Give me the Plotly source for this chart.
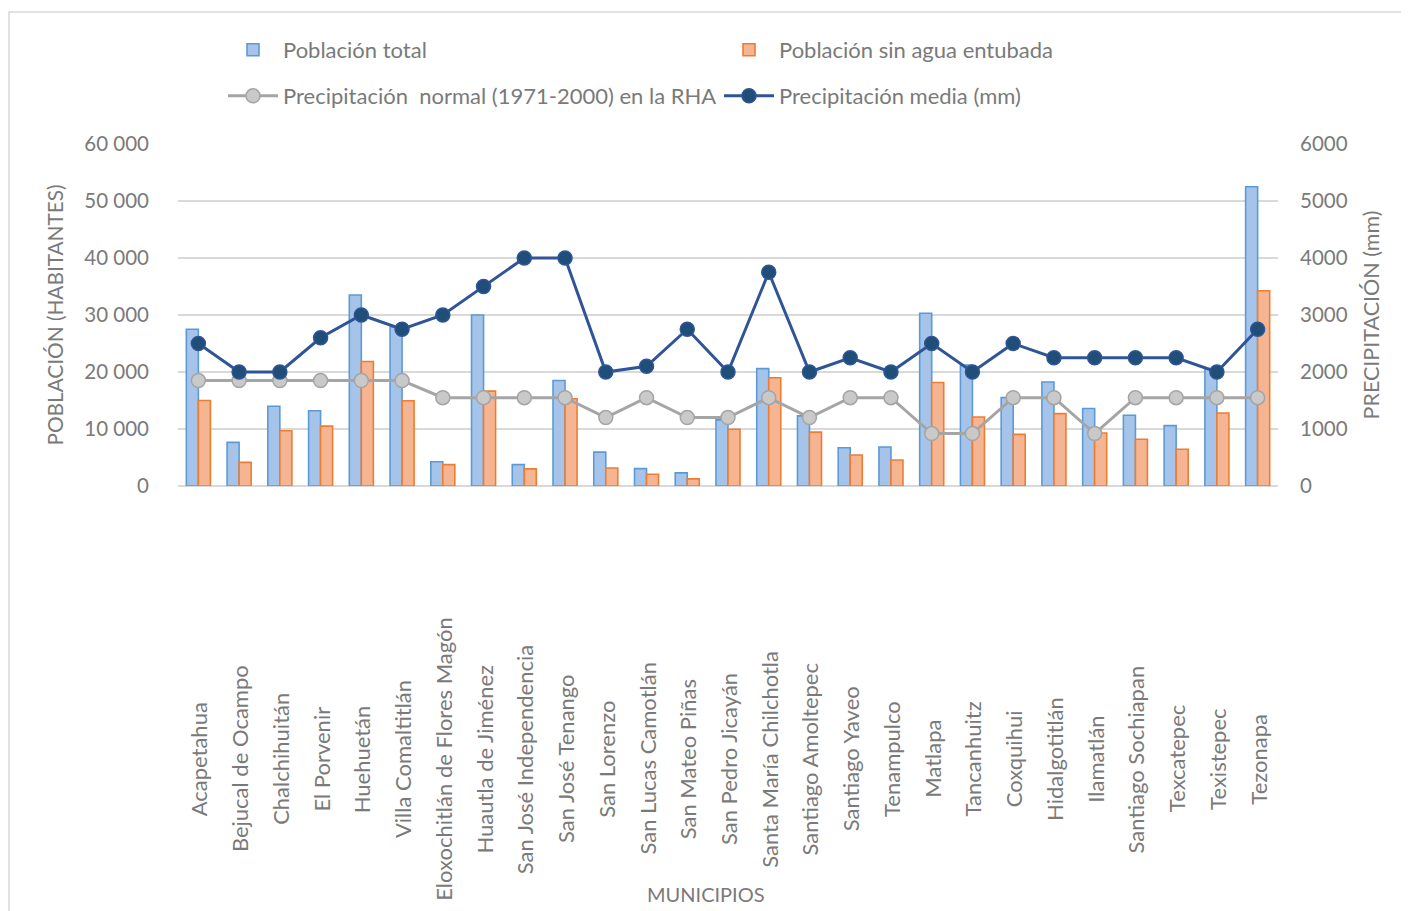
import plotly.graph_objects as go

municipios = [
    "Acapetahua", "Bejucal de Ocampo", "Chalchihuitán", "El Porvenir", "Huehuetán",
    "Villa Comaltitlán", "Eloxochitlán de Flores Magón", "Huautla de Jiménez",
    "San José Independencia", "San José Tenango", "San Lorenzo", "San Lucas Camotlán",
    "San Mateo Piñas", "San Pedro Jicayán", "Santa María Chilchotla", "Santiago Amoltepec",
    "Santiago Yaveo", "Tenampulco", "Matlapa", "Tancanhuitz", "Coxquihui", "Hidalgotitlán",
    "Ilamatlán", "Santiago Sochiapan", "Texcatepec", "Texistepec", "Tezonapa",
]

poblacion_total = [
    27500, 7650, 14000, 13200, 33500, 27900, 4250, 30000, 3750, 18500,
    5950, 3050, 2300, 11600, 20600, 12300, 6700, 6850, 30300, 21200,
    15500, 18250, 13600, 12400, 10600, 20600, 52500,
]

poblacion_sin_agua = [
    15000, 4150, 9700, 10500, 21850, 14950, 3750, 16650, 3000, 15300,
    3150, 2050, 1250, 9950, 19000, 9450, 5450, 4550, 18150, 12100,
    9050, 12700, 9300, 8200, 6450, 12800, 34250,
]

precip_normal = [
    1850, 1850, 1850, 1850, 1850, 1850, 1550, 1550, 1550, 1550,
    1200, 1550, 1200, 1200, 1550, 1200, 1550, 1550, 920, 920,
    1550, 1550, 920, 1550, 1550, 1550, 1550,
]

precip_media = [
    2500, 2000, 2000, 2600, 3000, 2750, 3000, 3500, 4000, 4000,
    2000, 2100, 2750, 2000, 3750, 2000, 2250, 2000, 2500, 2000,
    2500, 2250, 2250, 2250, 2250, 2000, 2750,
]

FONT = "Lato"
GRAY_TXT = "#7a7a7a"
OFF = 8  # page body margin
W, H = 1409 - OFF, 911 - OFF
L, R, T, B = 170, 131, 136, 425
PW, PH = W - L - R, H - T - B


def px_x(page_x):
    return (page_x - OFF - L) / PW


def px_y(page_y):
    return (T + PH - (page_y - OFF)) / PH


fig = go.Figure()

fig.add_trace(go.Bar(
    x=municipios, y=poblacion_total, name="Población total",
    marker=dict(color="#a6c4ea", line=dict(color="#5b9bd5", width=1.6)),
    legend="legend",
))
fig.add_trace(go.Bar(
    x=municipios, y=poblacion_sin_agua, name="Población sin agua entubada",
    marker=dict(color="#f6b592", line=dict(color="#ed7d31", width=1.6)),
    legend="legend",
))
fig.add_trace(go.Scatter(
    x=municipios, y=precip_normal, name="Precipitación\u00a0 normal (1971-2000) en la RHA",
    mode="lines+markers", yaxis="y2",
    line=dict(color="#a5a5a5", width=3),
    marker=dict(size=14, color="#c9c9c9", line=dict(color="#a5a5a5", width=1.5)),
    legend="legend2",
))
fig.add_trace(go.Scatter(
    x=municipios, y=precip_media, name="Precipitación media (mm)",
    mode="lines+markers", yaxis="y2",
    line=dict(color="#2f5597", width=3),
    marker=dict(size=14, color="#1f4e79", line=dict(color="#2f5597", width=1.5)),
    legend="legend2",
))

annotations = []
for m in municipios:
    annotations.append(dict(
        x=m, xref="x", y=px_y(759), yref="paper", text=m, textangle=-90,
        showarrow=False, xanchor="center", yanchor="middle",
        font=dict(family=FONT, size=22, color=GRAY_TXT),
    ))
annotations.append(dict(
    x=px_x(706), xref="paper", y=px_y(894), yref="paper", text="MUNICIPIOS",
    showarrow=False, xanchor="center", yanchor="middle",
    font=dict(family=FONT, size=20, color=GRAY_TXT),
))

legend_common = dict(
    orientation="h", xanchor="left", yanchor="middle",
    xref="container", yref="container",
    entrywidth=431, entrywidthmode="pixels", itemwidth=50,
    font=dict(family=FONT, size=22, color=GRAY_TXT),
    bgcolor="rgba(0,0,0,0)",
)

fig.update_layout(
    width=W, height=H,
    margin=dict(l=L, r=R, t=T, b=B, autoexpand=False),
    paper_bgcolor="white", plot_bgcolor="white",
    separators=". ",
    barmode="group", bargap=0.41, bargroupgap=0,
    font=dict(family=FONT, size=20, color=GRAY_TXT),
    showlegend=True,
    legend=dict(x=(223 - OFF) / W, y=1 - (50 - OFF) / H, **legend_common),
    legend2=dict(x=(223 - OFF) / W, y=1 - (96 - OFF) / H, **legend_common),
    xaxis=dict(
        range=[-0.5, len(municipios) - 0.5], autorange=False,
        showticklabels=False, showgrid=False, zeroline=False,
        showline=False, ticks="", automargin=False,
    ),
    yaxis=dict(
        range=[0, 60000], dtick=10000, tickformat=",d",
        showgrid=True, gridcolor="#d9d9d9", gridwidth=1.5,
        zeroline=True, zerolinecolor="#d9d9d9", zerolinewidth=1.5,
        showline=False, ticks="", ticklabelstandoff=28, automargin=False,
        tickfont=dict(family=FONT, size=20.5, color=GRAY_TXT),
        title=dict(text="POBLACIÓN (HABITANTES)", standoff=15,
                   font=dict(family=FONT, size=20.8, color=GRAY_TXT)),
    ),
    yaxis2=dict(
        range=[0, 6000], dtick=1000, tickformat="d",
        overlaying="y", side="right", showgrid=False, zeroline=False,
        showline=False, ticks="", ticklabelstandoff=21, automargin=False,
        tickfont=dict(family=FONT, size=20.5, color=GRAY_TXT),
        title=dict(text="PRECIPITACIÓN (mm)", standoff=17,
                   font=dict(family=FONT, size=21.5, color=GRAY_TXT)),
    ),
    annotations=annotations,
    shapes=[dict(
        type="rect", xref="paper", yref="paper",
        x0=px_x(9), x1=px_x(1430),
        y0=px_y(940), y1=px_y(12),
        line=dict(color="#d9d9d9", width=1.5), fillcolor="rgba(0,0,0,0)",
        layer="below",
    )],
)

fig.write_html("out.html")
